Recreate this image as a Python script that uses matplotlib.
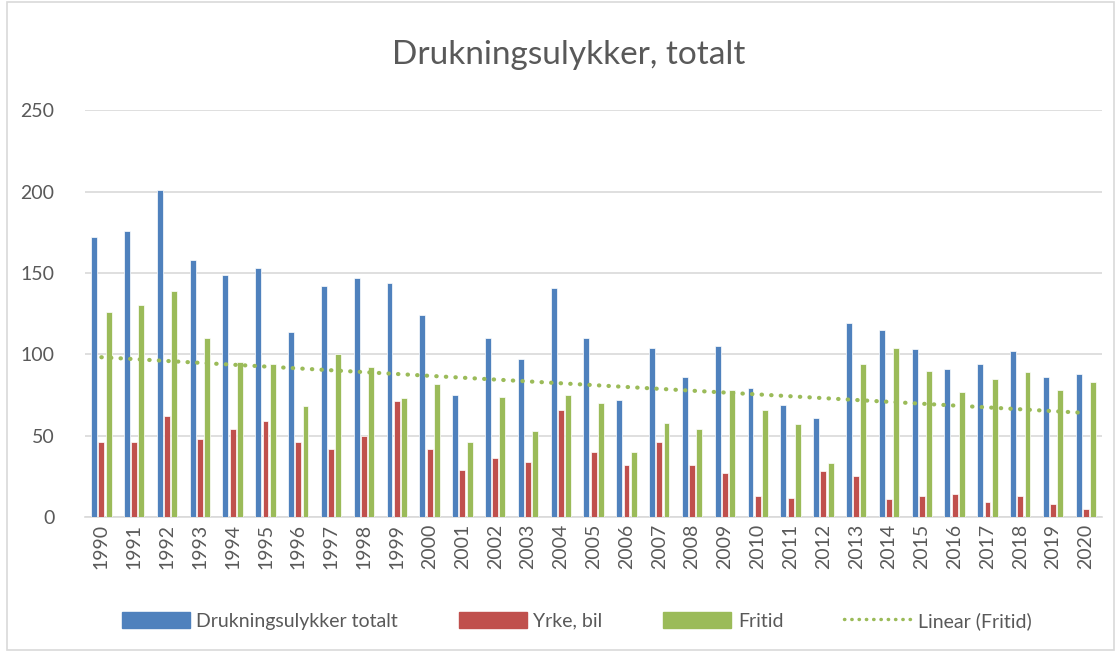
import matplotlib
matplotlib.use("Agg")
import matplotlib.pyplot as plt
import numpy as np
from matplotlib.patches import Rectangle, Patch
from matplotlib.lines import Line2D

years = [str(y) for y in range(1990, 2021)]
totalt = [172, 176, 201, 158, 149, 153, 114, 142, 147, 144, 124, 75, 110, 97, 141, 110,
          72, 104, 86, 105, 79, 69, 61, 119, 115, 103, 91, 94, 102, 86, 88]
yrke_bil = [46, 46, 62, 48, 54, 59, 46, 42, 50, 71, 42, 29, 36, 34, 66, 40,
            32, 46, 32, 27, 13, 12, 28, 25, 11, 13, 14, 9, 13, 8, 5]
fritid = [126, 130, 139, 110, 95, 94, 68, 100, 92, 73, 82, 46, 74, 53, 75, 70,
          40, 58, 54, 78, 66, 57, 33, 94, 104, 90, 77, 85, 89, 78, 83]

series_names = ["Drukningsulykker totalt", "Yrke, bil", "Fritid", "Linear (Fritid)"]
colors = ["#4F81BD", "#C0504D", "#9BBB59"]

plt.rcParams['font.family'] = ['Lato', 'DejaVu Sans']

fig = plt.figure(figsize=(11.18, 6.52), dpi=100)
ax = fig.add_axes([0.076, 0.207, 0.910, 0.624])

x = np.arange(len(years))
w = 0.18
step = 0.22
for i, (vals, c) in enumerate(zip([totalt, yrke_bil, fritid], colors)):
    ax.bar(x + (i - 1) * step, vals, width=w, color=c, edgecolor="white", linewidth=0.5, zorder=3)

coef = np.polyfit(x, fritid, 1)
trend = np.polyval(coef, x)
ax.plot(x, trend, linestyle=(0, (0.1, 2.2)), dash_capstyle='round', color="#9BBB59",
        linewidth=3, zorder=4)

ax.set_xlim(-0.5, len(years) - 0.5)
ax.set_ylim(0, 250)
ax.set_yticks([0, 50, 100, 150, 200, 250])
ax.set_xticks(x)
ax.set_xticklabels(years, rotation=90)
ax.tick_params(axis='both', length=0, labelsize=14, colors="#595959")
ax.tick_params(axis='y', pad=22)
ax.tick_params(axis='x', pad=5)
ax.yaxis.grid(True, color="#d9d9d9", linewidth=1.2, zorder=0)
ax.set_axisbelow(True)
for s in ["top", "right", "left"]:
    ax.spines[s].set_visible(False)
ax.spines["bottom"].set_color("#d9d9d9")
ax.spines["bottom"].set_linewidth(1.2)

fig.text(0.509, 0.915, "Drukningsulykker, totalt", ha="center", va="center",
         fontsize=24, color="#595959")

handles = [Patch(color=colors[0]), Patch(color=colors[1]), Patch(color=colors[2]),
           Line2D([0], [0], color="#9BBB59", linestyle=(0, (0.1, 2.0)), dash_capstyle='round', linewidth=2.5)]
leg = fig.legend(handles, series_names, loc="center", bbox_to_anchor=(0.516, 0.048), ncol=4,
                 frameon=False, fontsize=14, handlelength=3.5, handleheight=0.9,
                 columnspacing=3.1, handletextpad=0.35)
for t in leg.get_texts():
    t.set_color("#595959")

fig.add_artist(Rectangle((0.006, 0.003), 0.99, 0.994, transform=fig.transFigure,
                         fill=False, edgecolor="#d9d9d9", linewidth=1.2))

fig.savefig("out.png", dpi=100)
